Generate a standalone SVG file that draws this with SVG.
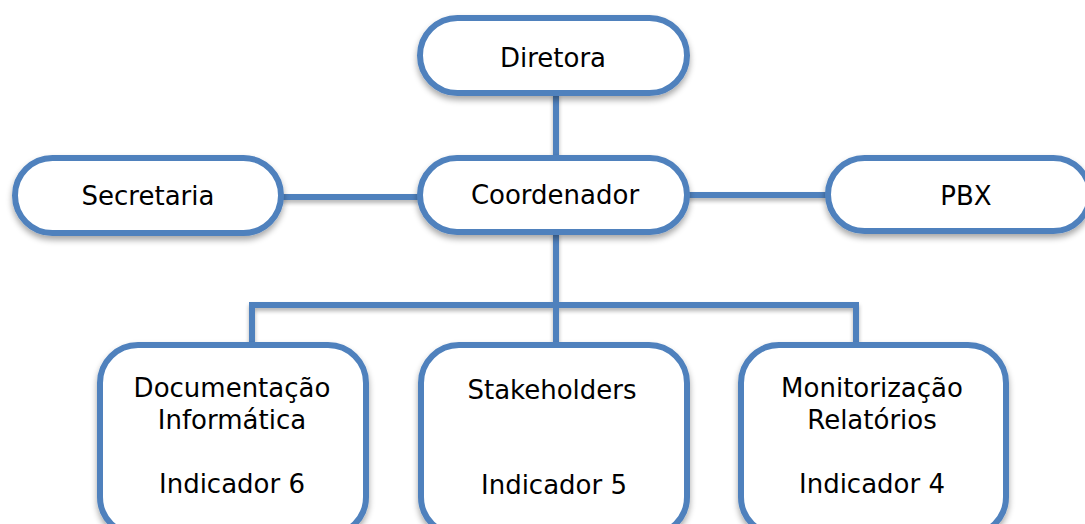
<svg xmlns="http://www.w3.org/2000/svg" width="1085" height="524" viewBox="0 0 1085 524">
<defs>
<filter id="sh" x="-10%" y="-20%" width="120%" height="150%">
<feGaussianBlur in="SourceAlpha" stdDeviation="3"/>
<feOffset dx="0" dy="4" result="b"/>
<feComponentTransfer><feFuncA type="linear" slope="0.35"/></feComponentTransfer>
<feMerge><feMergeNode/><feMergeNode in="SourceGraphic"/></feMerge>
</filter>
<filter id="shl" filterUnits="userSpaceOnUse" x="0" y="0" width="1085" height="524">
<feGaussianBlur in="SourceAlpha" stdDeviation="2"/>
<feOffset dx="0" dy="3" result="b"/>
<feComponentTransfer><feFuncA type="linear" slope="0.3"/></feComponentTransfer>
<feMerge><feMergeNode/><feMergeNode in="SourceGraphic"/></feMerge>
</filter>
<style>
.box{fill:#ffffff;stroke:#4F81BD;stroke-width:6;filter:url(#sh)}
.ln{fill:none;stroke:#4F81BD;stroke-width:6;filter:url(#shl)}
text{font-family:"DejaVu Sans","Liberation Sans",sans-serif;font-size:26px;fill:#000;text-anchor:middle}
</style>
</defs>
<rect width="1085" height="524" fill="#ffffff"/>
<g id="connectors">
<path class="ln" d="M556 93 V158 M281 197 H420 M687 195 H828 M556 232 V305 M252 345 V305 H856 V345 M556 305 V345"/>
</g>
<g id="diretora"><rect class="box" x="420" y="18" width="267" height="75" rx="37.5"/><text x="553" y="67">Diretora</text></g>
<g id="coordenador"><rect class="box" x="420" y="158" width="267" height="74" rx="37"/><text x="555" y="204">Coordenador</text></g>
<g id="secretaria"><rect class="box" x="15" y="158" width="266" height="75" rx="37.5"/><text x="148" y="205">Secretaria</text></g>
<g id="pbx"><rect class="box" x="828" y="158" width="262" height="73" rx="36.5"/><text x="966" y="205">PBX</text></g>
<g id="documentacao"><rect class="box" x="100" y="345" width="266" height="190" rx="38"/><text x="232" y="397">Documentação</text><text x="232" y="429">Informática</text><text x="232" y="493">Indicador 6</text></g>
<g id="stakeholders"><rect class="box" x="421" y="345" width="266" height="190" rx="38"/><text x="552" y="399">Stakeholders</text><text x="554" y="494">Indicador 5</text></g>
<g id="monitorizacao"><rect class="box" x="741" y="345" width="265" height="190" rx="38"/><text x="872" y="397">Monitorização</text><text x="872" y="429">Relatórios</text><text x="872" y="493">Indicador 4</text></g>
</svg>
